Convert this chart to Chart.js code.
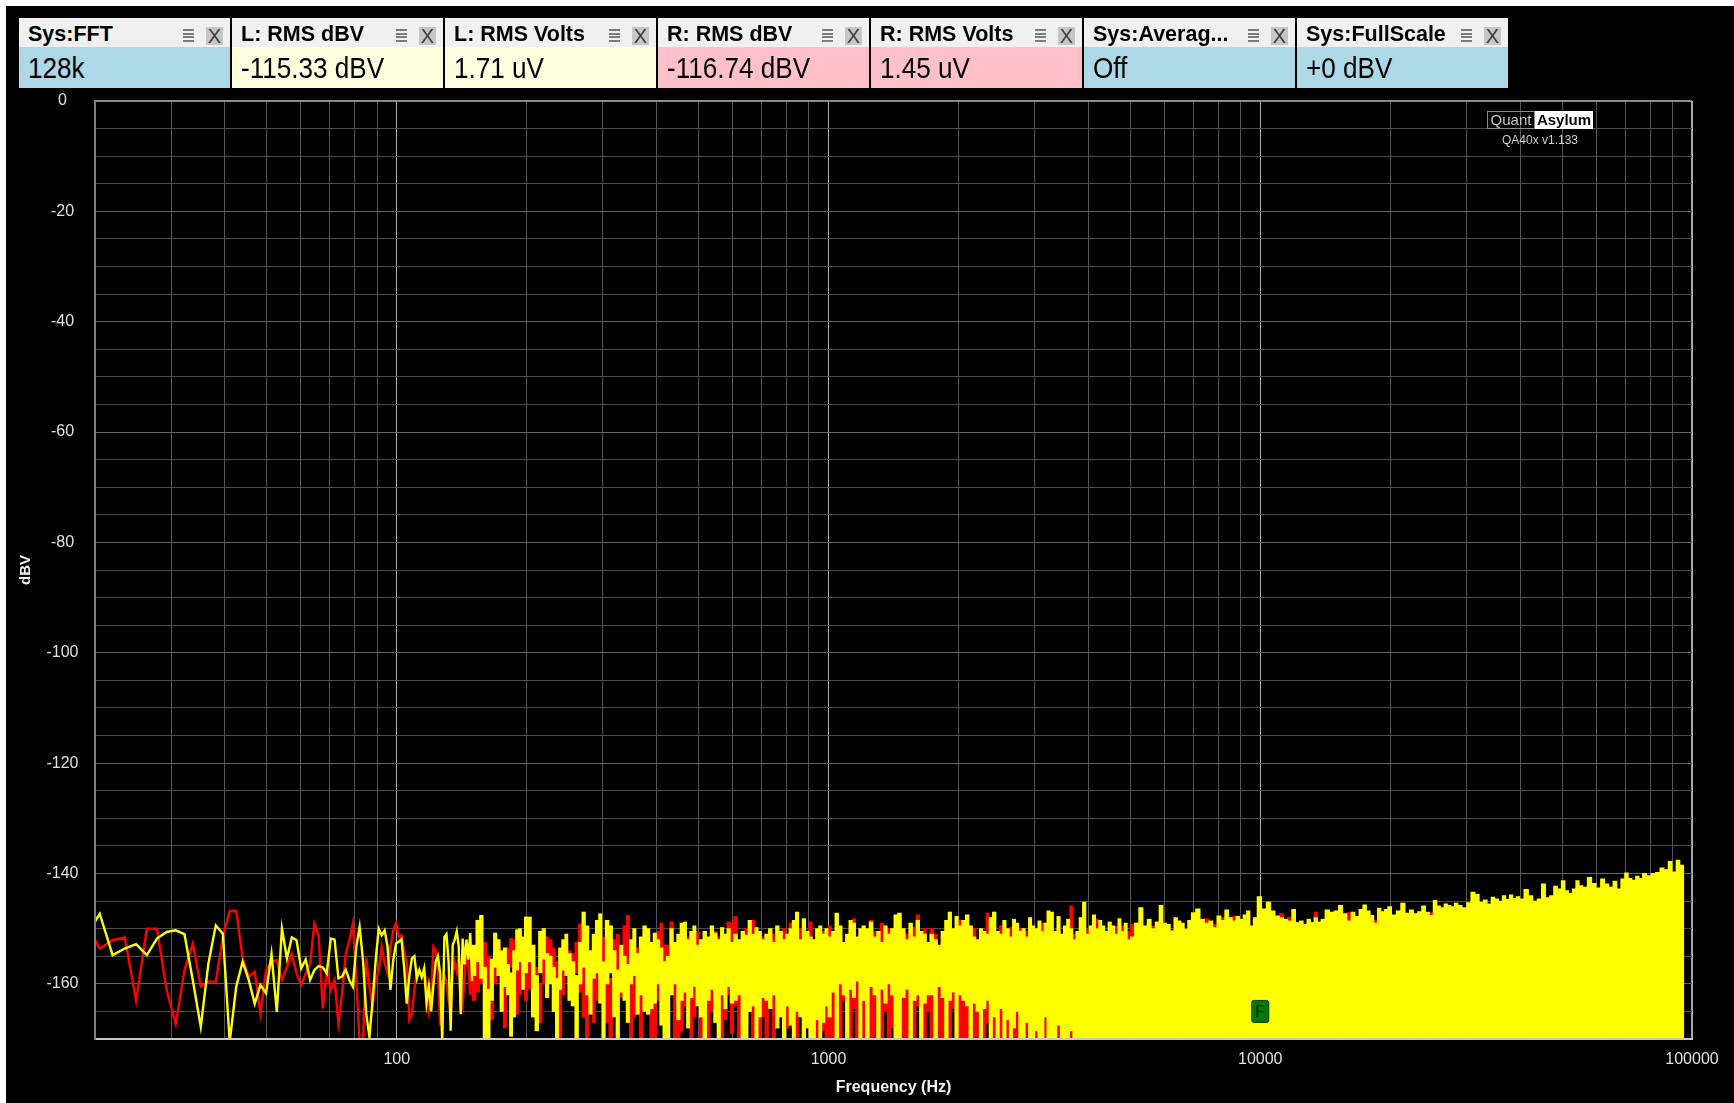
<!DOCTYPE html>
<html>
<head>
<meta charset="utf-8">
<title>QA40x FFT noise floor</title>
<script src="https://cdn.jsdelivr.net/npm/chart.js@4.4.1/dist/chart.umd.min.js"></script>
<style>
  html, body { margin: 0; padding: 0; background: #000; }
  body { width: 1734px; height: 1103px; position: relative; overflow: hidden; font-family: "Liberation Sans", Arial, sans-serif; }
  #chart { position: absolute; left: 0; top: 0; }
  .edge { position: absolute; background: #fff; z-index: 3; }
  .rd { position: absolute; top: 18px; width: 211px; height: 70px; z-index: 2; }
  .rd .t { position: absolute; left: 0; top: 0; width: 211px; height: 29px; background: #f0f0f0; color: #000;
           font-weight: bold; font-size: 21.5px; line-height: 32px; text-indent: 9px; white-space: nowrap; overflow: hidden; }
  .rd .v { position: absolute; left: 0; top: 29px; width: 211px; height: 41px; overflow: hidden; }
  .rd .v span { position: absolute; left: 9px; top: 0; font-size: 30px; line-height: 41px; color: #000;
                transform: scaleX(0.87); transform-origin: 0 50%; white-space: nowrap; }
  .rd .m { position: absolute; left: 164px; top: 11px; width: 11px; height: 13px;
           background: repeating-linear-gradient(#7c7c7c 0 2px, transparent 2px 3.67px); }
  .rd .x { position: absolute; left: 187px; top: 9px; width: 17px; height: 18px; background: #c6c6c6; color: #3c3c3c;
           font-size: 20px; font-weight: normal; line-height: 19px; text-align: center; text-indent: 0; }
  .logo { position: absolute; z-index: 2; white-space: nowrap; }
</style>
</head>
<body>
<canvas id="chart" width="1734" height="1103"></canvas>
<div class="edge" style="left:0;top:0;width:1734px;height:6px"></div>
<div class="edge" style="left:0;top:0;width:6px;height:1103px"></div>
<div id="readouts"></div>
<div class="logo" style="left:1487px;top:111px;width:46px;height:16px;border:1px solid #8c8c8c;color:#c4c4c4;font-size:15px;line-height:16px;text-align:center">Quant</div>
<div class="logo" style="left:1535px;top:111px;width:58px;height:18px;background:#fff;color:#000;font-weight:bold;font-size:15px;line-height:18px;text-align:center">Asylum</div>
<div class="logo" style="left:1490px;top:133px;width:100px;color:#d0d0d0;font-size:12px;line-height:14px;text-align:center">QA40x v1.133</div>
<script>
(function () {
  const readoutTitles = ["Sys:FFT", "L: RMS dBV", "L: RMS Volts", "R: RMS dBV", "R: RMS Volts", "Sys:Averag...", "Sys:FullScale"];
  const readoutValues = ["128k", "-115.33 dBV", "1.71 uV", "-116.74 dBV", "1.45 uV", "Off", "+0 dBV"];
  const readoutKinds = ["sys", "left", "left", "right", "right", "sys", "sys"];

  // FFT bins below 150 Hz, drawn as lines
  const lowFreq = [
    19.04, 20.51, 21.97, 23.44, 24.90, 26.37, 27.83, 29.30, 30.76, 32.23,
    33.69, 35.16, 36.62, 38.09, 39.55, 41.02, 42.48, 43.95, 45.41, 46.88,
    48.34, 49.80, 51.27, 52.73, 54.20, 55.66, 57.13, 58.59, 60.06, 61.52,
    62.99, 64.45, 65.92, 67.38, 68.85, 70.31, 71.78, 73.24, 74.71, 76.17,
    77.64, 79.10, 80.57, 82.03, 83.50, 84.96, 86.43, 87.89, 89.36, 90.82,
    92.29, 93.75, 95.21, 96.68, 98.14, 99.61, 101.07, 102.54, 104.00, 105.47,
    106.93, 108.40, 109.86, 111.33, 112.79, 114.26, 115.72, 117.19, 118.65, 120.12,
    121.58, 123.05, 124.51, 125.98, 127.44, 128.91, 130.37, 131.84, 133.30, 134.77,
    136.23, 137.70, 139.16, 140.63, 142.09, 143.55, 145.02, 146.48, 147.95, 149.41
  ];
  const lowL = [
    -151.4, -147.3, -154.8, -153.6, -152.8, -154.8, -151.8, -150.6, -150.3, -151.0,
    -159.3, -167.8, -156.3, -149.4, -150.9, -170.5, -160.5, -156.0, -159.3, -163.6,
    -160.2, -161.7, -154.6, -165.1, -150.0, -155.4, -151.6, -152.1, -157.2, -155.6,
    -159.3, -157.5, -156.8, -157.0, -158.1, -151.8, -152.0, -159.0, -158.7, -157.4,
    -159.3, -160.5, -153.3, -149.7, -155.7, -165.4, -169.6, -163.0, -155.7, -150.0,
    -151.2, -150.3, -153.3, -161.1, -155.7, -152.7, -152.4, -151.9, -157.0, -163.6,
    -158.5, -155.4, -155.0, -159.0, -157.5, -158.8, -157.2, -163.5, -160.5, -165.0,
    -160.2, -156.0, -155.0, -158.0, -170.5, -151.5, -151.0, -156.0, -168.5, -153.0,
    -152.0, -150.5, -153.2, -165.5, -151.8, -156.5, -152.0, -155.6, -150.8, -159.5
  ];
  const lowR = [
    -149.1, -153.6, -152.1, -151.6, -163.0, -150.0, -150.0, -161.1, -167.3, -157.5,
    -152.7, -160.5, -159.6, -159.6, -151.5, -146.8, -146.8, -155.4, -158.7, -157.8,
    -165.4, -157.5, -156.0, -155.7, -159.3, -156.9, -154.6, -158.1, -160.2, -158.1,
    -156.3, -149.1, -151.2, -164.5, -157.5, -161.1, -159.3, -167.2, -161.7, -154.5,
    -152.1, -149.1, -159.3, -170.5, -170.5, -155.2, -160.5, -164.2, -159.3, -157.5,
    -153.3, -156.3, -158.1, -153.3, -150.3, -149.0, -151.5, -151.2, -154.2, -156.0,
    -166.5, -165.4, -161.0, -157.5, -157.8, -158.5, -157.3, -160.0, -164.8, -162.0,
    -153.3, -154.0, -157.5, -167.5, -160.0, -158.5, -159.5, -163.0, -165.4, -158.0,
    -156.0, -157.8, -155.0, -161.5, -163.8, -159.0, -154.0, -157.0, -162.0, -156.5
  ];

  // 150 Hz .. 3.8 kHz: per-column min / max of the dense trace
  const midFreq = [
    151, 154, 157, 160, 163, 166, 169, 172, 175, 178, 181, 184, 187, 190, 193, 196, 199,
    203, 207, 211, 215, 219, 223, 227, 231, 235, 239, 243, 247, 251,
    256, 261, 266, 271, 276, 281, 286, 291, 296, 301,
    307, 313, 319, 325, 331, 337, 343, 349, 355, 361,
    368, 375, 382, 389, 396, 403, 410, 417,
    425, 433, 441, 449, 457, 465, 473, 481, 489, 497,
    507, 517, 527, 537, 547, 557, 567, 577, 587, 597,
    609, 621, 633, 645, 657, 669, 681, 693, 705,
    719, 733, 747, 761, 775, 789, 803, 817, 831, 845,
    861, 877, 893, 909, 925, 941, 957, 973, 989, 1005,
    1025, 1045, 1065, 1085, 1105, 1125, 1145, 1165, 1185, 1205,
    1230, 1255, 1280, 1305, 1330, 1355, 1380, 1405, 1430,
    1460, 1490, 1520, 1550, 1580, 1610, 1640, 1670, 1700,
    1735, 1770, 1805, 1840, 1875, 1910, 1945, 1980, 2015,
    2055, 2095, 2135, 2175, 2215, 2255, 2295, 2335, 2375,
    2420, 2465, 2510, 2555, 2600, 2645, 2690, 2735, 2780,
    2830, 2880, 2930, 2980, 3030, 3080, 3130, 3180, 3230,
    3290, 3350, 3410, 3470, 3530, 3590, 3650, 3710, 3770
  ];
  const midLLo = [
    -158.5, -156, -159, -171, -171, -163, -157, -158.5, -165, -160.5, -162, -169.5, -166, -157.5, -156, -161, -158,
    -156, -166, -168.5, -158, -155.5, -162.5, -160, -165, -171, -161, -157.5, -158.5, -163,
    -164, -171, -160, -157, -162, -165.5, -159, -158, -163.5, -171,
    -160, -158, -166, -171, -161.5, -163, -167, -160, -158.5, -165.5,
    -162, -165, -165.5, -164.5, -163.5, -160, -167.5, -171,
    -171, -162, -160, -166.5, -163, -161.5, -168, -162.5, -160.5, -164,
    -166, -171, -163, -161, -167, -171, -162, -164.5, -160.5, -163.5,
    -163, -162, -171, -171, -165, -164, -171, -166, -162.5,
    -163, -164.5, -162, -168, -166, -171, -164, -167.5, -171, -165,
    -166, -171, -168, -171, -171, -166.5, -171, -167, -164, -166,
    -161.5, -171, -160, -162, -171, -161, -162.5, -159.5, -171, -163,
    -171, -160.5, -162, -171, -161, -163.5, -160, -162, -171,
    -171, -162.5, -161, -171, -163, -162, -171, -163.5, -162,
    -162, -171, -160.5, -162.5, -171, -163, -161.5, -171, -162,
    -163, -164, -171, -163.5, -165, -171, -164.5, -163, -171,
    -166, -171, -164.5, -171, -166.5, -171, -168, -165, -171,
    -171, -167, -171, -171, -168.5, -171, -171, -166, -171,
    -171, -171, -167.5, -171, -171, -171, -168.5, -171, -171
  ];
  const midLHi = [
    -153, -148.5, -147.6, -157, -161, -155.5, -150.8, -152, -154, -153.5, -156.5, -158, -154, -150.2, -150, -151.5, -147.9,
    -147.9, -153, -158.5, -150.5, -150, -154.5, -155, -157, -159, -153.5, -152, -151, -154.5,
    -156, -158.5, -152.5, -147, -149.5, -154, -151, -148.5, -147.3, -156,
    -148.5, -149.5, -154, -157.5, -153, -155, -156.5, -152, -150, -154.5,
    -151.5, -149.5, -150, -152.5, -150.8, -152, -153.5, -156,
    -155, -150, -152.5, -151, -149, -148.8, -152, -150.5, -149.5, -153,
    -152, -150.5, -151.5, -149.5, -150.8, -152, -149.8, -151, -150, -152.5,
    -151, -152, -150.5, -151.2, -148.5, -151, -149.8, -150.5, -152,
    -151, -150, -152.5, -149.5, -150.5, -152, -151, -150, -148.5, -147,
    -152, -148.2, -150.5, -151.5, -152, -150, -149.5, -151, -150, -151.5,
    -150.5, -147.2, -149.5, -152.5, -151, -148.5, -149, -151.5, -150, -149.5,
    -150, -148.8, -151.5, -150.5, -152.5, -149.5, -151, -150, -147.5,
    -147.2, -150, -152, -149, -151.5, -148.5, -150.5, -151, -152.5,
    -151, -152, -153, -150.5, -148.5, -147, -150, -147.8, -149.5,
    -148.5, -147.5, -149.5, -151.5, -152, -150, -150.5, -151, -148,
    -147, -150.5, -151, -148.5, -150, -151.5, -148.3, -149, -150.5,
    -150, -151.5, -148, -149.5, -150, -148.6, -150.5, -149, -146.8,
    -147, -150.5, -147.8, -151, -149.5, -148.3, -150, -152, -150.5
  ];
  const midRLo = [
    -163, -161.5, -160, -158, -163.5, -166.5, -160, -158, -164, -168, -161, -157, -160.5, -165.5, -162, -159, -163,
    -161, -159, -163.5, -167, -160, -156.5, -157, -159.5, -164, -171, -162, -158, -160.5,
    -160, -158, -161.5, -166, -171, -162.5, -167, -163, -160, -158.5,
    -167, -171, -161, -159, -162.5, -160, -164, -171, -166, -161,
    -171, -163, -160.5, -171, -171, -163, -161.5, -166,
    -162, -158, -171, -171, -168.5, -164, -161, -171, -166, -160,
    -171, -161, -171, -165, -158.5, -163, -171, -166.5, -162, -169,
    -164, -171, -161, -167, -162.5, -171, -163, -171, -166,
    -171, -162, -171, -166, -162, -171, -168, -163, -165, -171,
    -164, -171, -162.5, -166, -163, -171, -162, -168.5, -171, -171,
    -171, -164, -171, -163, -166, -171, -164.5, -171, -162, -171,
    -166, -171, -171, -163.5, -171, -165, -171, -168, -164,
    -164, -171, -171, -166.5, -171, -164, -168, -171, -165,
    -171, -165, -171, -171, -166, -171, -164.5, -171, -171,
    -171, -171, -167, -171, -171, -166, -171, -167, -165.5,
    -171, -171, -171, -167.5, -171, -166, -171, -171, -167,
    -171, -171, -167, -171, -171, -169, -171, -171, -168,
    -171, -171, -171, -171, -171, -171, -171, -171, -171
  ];
  const midRHi = [
    -156, -154.5, -153, -152.5, -155, -156, -153, -152.5, -157, -159, -153.5, -151.8, -152, -157.5, -155, -154, -156.5,
    -155.5, -153, -157, -160, -154, -151.5, -152, -153.5, -156, -160, -155.5, -152.5, -154,
    -154.5, -152.5, -149.2, -152, -158, -155, -157.5, -155, -152.5, -151.5,
    -157, -159, -152, -151, -155.5, -149.5, -147.6, -155, -158, -153.5,
    -158, -156, -151, -155, -157.5, -150.5, -149, -153,
    -153, -148.8, -154, -157, -155, -153.5, -151.5, -156, -152, -150.5,
    -158, -153, -155.5, -152, -150.5, -151.5, -156, -153, -148.8, -149,
    -147.8, -153, -152.5, -150, -151, -148.5, -154, -155, -151.5,
    -152.5, -154, -151, -153.5, -152.5, -150, -155, -149, -152, -154,
    -150, -155, -152.5, -148.8, -153, -152, -154.5, -150.5, -153, -149.5,
    -152, -153, -151.5, -153.5, -152, -150, -148.2, -153, -151, -152.5,
    -152, -148.5, -150.5, -153, -149, -151.5, -150, -152.5, -151.5,
    -150, -152.5, -151, -150.5, -149.8, -147.5, -152, -150, -153,
    -150, -151, -154, -151.5, -152, -149, -151.5, -150.5, -148.5,
    -151, -152, -151, -150, -153, -151.5, -152, -147.2, -150.5,
    -151, -152.5, -149.5, -152, -150.5, -149.8, -151, -152.5, -150,
    -152, -150.5, -151, -152, -150, -151.5, -149, -151, -150.5,
    -150.5, -152, -150, -151.5, -150.5, -152, -145.9, -151, -152.5
  ];

  // 3.8 kHz .. 95 kHz: trace fills down to the floor, only the top edge shows
  const highFreq = [
    3840, 3910, 3980, 4050, 4120, 4190, 4260, 4330, 4400,
    4480, 4560, 4640, 4720, 4800, 4880, 4960,
    5050, 5170, 5290, 5410, 5530, 5650, 5770, 5890, 6010, 6130, 6250, 6370, 6490, 6610, 6730, 6850,
    7000, 7170, 7340, 7510, 7680, 7850, 8020, 8190, 8360, 8530, 8700, 8870, 9040, 9210, 9380, 9550, 9720,
    9950, 10200, 10450, 10700, 10950, 11200, 11450, 11700, 11950, 12200, 12450, 12700, 12950, 13200, 13450, 13700, 13950,
    14300, 14650, 15000, 15350, 15700, 16050, 16400, 16750, 17100, 17450, 17800, 18150, 18500, 18850, 19200, 19550, 19900,
    20400, 20900, 21400, 21900, 22400, 22900, 23400, 23900, 24400, 24900, 25400, 25900, 26400, 26900, 27400, 27900, 28400,
    29000, 29700, 30400, 31100, 31800, 32500, 33200, 33900, 34600, 35300, 36000, 36700, 37400, 38100, 38800, 39500,
    40300, 41300, 42300, 43300, 44300, 45300, 46300, 47300, 48300, 49300, 50300, 51300, 52300, 53300, 54300, 55300,
    56500, 57900, 59300, 60700, 62100, 63500, 64900, 66300, 67700, 69100, 70500, 71900, 73300, 74700, 76100, 77500,
    79500, 81400, 83300, 85200, 87100, 89000, 90900, 92800, 94700
  ];
  const highL = [
    -148, -145.2, -151, -149.5, -147.5, -150, -148.5, -149.5, -150.5,
    -148.8, -149.5, -151, -148.2, -150.5, -149, -152,
    -151.5, -149, -146.2, -149.5, -148.3, -150, -148.8, -145.8, -149, -149.2, -150.4, -148, -148.6, -149, -150.1, -148.5,
    -147.1, -146.4, -148.3, -149, -148.6, -149.8, -147.7, -148.5, -146.6, -148, -148.6, -147.8, -148.3, -147.5, -146.8, -149.5, -148,
    -144.2, -146.4, -145.2, -146.8, -147.7, -148, -148.3, -148.6, -146.5, -148.9, -148.6, -149.2, -148.3, -148.9, -148, -148.8, -148.3,
    -146.6, -147, -146.8, -145.8, -147.3, -148.6, -147, -147.8, -146.5, -145.7, -146.8, -147.6, -149, -146.3, -146.9, -146.5, -146,
    -147.5, -146.8, -145.4, -147.2, -146.6, -147.3, -146.9, -145.9, -147, -147.6, -144.9, -145.9, -146.2, -145.5, -145.8, -146, -145.4,
    -145.8, -146.2, -145.3, -143.4, -143.8, -145.2, -144.8, -145.5, -144.3, -144.6, -145, -144, -144.7, -143.9, -144.5, -144.2,
    -144.6, -142.9, -144, -145, -144.6, -141.9, -144.4, -144, -142.3, -142.8, -141.3, -143.1, -143.6, -142.8, -141.3, -142.2,
    -142.5, -140.7, -141.8, -142.6, -141, -141.9, -142.5, -141.4, -142.8, -141, -139.9, -140.9, -141.2, -140.5, -140.9, -140,
    -140.4, -140, -139.8, -139, -139.3, -137.8, -139.7, -137.6, -138.5
  ];
  const highR = [
    -151, -150, -150.2, -151.5, -150, -148.3, -151, -150.5, -152,
    -151.5, -150, -149.6, -151, -149.5, -152.5, -150.5,
    -149.2, -150.5, -149, -150, -150.5, -149.6, -151, -149.5, -150.5, -150.8, -151.5, -150, -150.3, -150.5, -151, -150,
    -149.5, -149.8, -149, -148.2, -149.6, -149.2, -149.5, -148, -149.5, -149.8, -147.8, -149.5, -150, -149.2, -149, -150.5, -149.7,
    -148.5, -148.8, -148.5, -149, -149.2, -147.3, -149.5, -147.9, -149.5, -150, -149.6, -150, -149.5, -149.8, -147, -149.5, -149.6,
    -148.5, -148.2, -148, -148.6, -148.9, -147.1, -148.5, -149, -148, -148.3, -148.6, -149, -148.5, -148, -148.2, -148.6, -147.8,
    -148.3, -148.5, -147.8, -148, -148, -148.5, -148.2, -147.5, -147.8, -147.1, -147.3, -147.5, -147.7, -147.2, -147.5, -147.8, -147,
    -147.5, -147, -147, -146, -146.5, -146.8, -146.5, -146.5, -146, -146, -146.3, -146, -146.2, -145.8, -146, -145.8,
    -145.8, -145.5, -145.6, -146, -145.8, -145, -145.5, -145, -144.5, -144.6, -144.3, -144.6, -145, -144.5, -144.2, -144,
    -144, -143.5, -143.5, -144, -143.2, -143.5, -143.8, -143, -144, -142.8, -142.5, -142.6, -142.9, -142.5, -142.5, -142,
    -142, -141.7, -141.5, -141, -141.2, -140.5, -141.4, -140.4, -140.5
  ];
  const floorDb = -171;

  const xGridValues = [
    20, 30, 40, 50, 60, 70, 80, 90, 100, 200, 300, 400, 500, 600, 700, 800, 900,
    1000, 2000, 3000, 4000, 5000, 6000, 7000, 8000, 9000, 10000,
    20000, 30000, 40000, 50000, 60000, 70000, 80000, 90000, 100000
  ];
  const xLabelValues = [100, 1000, 10000, 100000];
  const xMajorValues = [100, 1000, 10000];
  const yGridValues = [
    0, -5, -10, -15, -20, -25, -30, -35, -40, -45, -50, -55, -60, -65, -70, -75, -80, -85,
    -90, -95, -100, -105, -110, -115, -120, -125, -130, -135, -140, -145, -150, -155, -160, -165, -170
  ];
  const yLabelValues = [0, -20, -40, -60, -80, -100, -120, -140, -160];
  const markerFreq = [10000];
  const markerDb = [-165];
  const markerText = ["F"];

  const kindColors = { sys: "#add8e6", left: "#ffffe0", right: "#ffc0cb" };
  const holder = document.getElementById("readouts");
  readoutTitles.forEach(function (title, i) {
    const box = document.createElement("div");
    box.className = "rd";
    box.style.left = (19 + i * 213) + "px";
    box.innerHTML =
      '<div class="t"></div><div class="m"></div><div class="x">X</div>' +
      '<div class="v" style="background:' + kindColors[readoutKinds[i]] + '"><span></span></div>';
    box.querySelector(".t").textContent = title;
    box.querySelector(".v span").textContent = readoutValues[i];
    holder.appendChild(box);
  });

  const yellow = "#ffff00";
  const red = "#ff0000";
  const fontFamily = "'Liberation Sans', Arial, sans-serif";
  const tickFont = { family: fontFamily, size: 16 };

  const points = (fs, ys) => fs.map((f, i) => ({ x: f, y: ys[i] }));
  const spans = (fs, lo, hi) => fs.map((f, i) => ({ x: f, y: [lo[i], hi[i]] }));
  const floorSpans = (fs, hi) => fs.map((f, i) => ({ x: f, y: [floorDb, hi[i]] }));

  const lineSet = (label, data, color) => ({
    type: "line", label: label, data: data,
    borderColor: color, backgroundColor: color, borderWidth: 2.4,
    pointRadius: 0, tension: 0, fill: false, clip: 0,
  });
  const barSet = (label, data, color) => ({
    type: "bar", label: label, data: data,
    backgroundColor: color, borderWidth: 0, stack: "trace",
    barThickness: "flex", barPercentage: 1, categoryPercentage: 1,
    inflateAmount: 0.4, clip: 0,
  });

  const markerPlugin = {
    id: "marker",
    afterDatasetsDraw(chart) {
      const c = chart.ctx;
      const xs = chart.scales.x;
      const ys = chart.scales.y;
      markerFreq.forEach(function (f, i) {
        const px = xs.getPixelForValue(f);
        const py = ys.getPixelForValue(markerDb[i]);
        c.save();
        c.fillStyle = "#007a00";
        c.strokeStyle = "#0c360c";
        c.lineWidth = 1;
        c.beginPath();
        c.roundRect(px - 8.5, py - 11, 17, 22, 2);
        c.fill();
        c.stroke();
        c.fillStyle = "#061806";
        c.font = "16px " + fontFamily;
        c.textAlign = "center";
        c.textBaseline = "middle";
        c.fillText(markerText[i], px, py + 1);
        c.restore();
      });
    },
  };

  new Chart(document.getElementById("chart"), {
    type: "line",
    data: {
      datasets: [
        lineSet("L", points(lowFreq, lowL), yellow),
        barSet("L", spans(midFreq, midLLo, midLHi), yellow),
        barSet("L", floorSpans(highFreq, highL), yellow),
        lineSet("R", points(lowFreq, lowR), red),
        barSet("R", spans(midFreq, midRLo, midRHi), red),
        barSet("R", floorSpans(highFreq, highR), red),
      ],
    },
    options: {
      responsive: false,
      animation: false,
      devicePixelRatio: 1,
      events: [],
      layout: { padding: { left: 6, top: 101, right: 42, bottom: 0 } },
      plugins: { legend: { display: false }, tooltip: { enabled: false } },
      scales: {
        x: {
          type: "logarithmic",
          position: "bottom",
          min: 20,
          max: 100000,
          offset: false,
          afterBuildTicks: (s) => { s.ticks = xGridValues.map((v) => ({ value: v })); },
          afterFit: (s) => { s.height = 64; },
          grid: {
            offset: false,
            drawTicks: false,
            color: (c) => {
              const v = c.tick && c.tick.value;
              if (v === 100000) return "#a8a8a8";
              return xMajorValues.includes(v) ? "#b0b0b0" : "#555555";
            },
            lineWidth: (c) => (c.tick && c.tick.value === 100000 ? 2 : 1),
          },
          border: { color: "#c8c8c8", width: 2, z: 1 },
          ticks: {
            autoSkip: false,
            maxRotation: 0,
            minRotation: 0,
            padding: 11,
            color: "#e0e0e0",
            font: tickFont,
            callback: (v) => (xLabelValues.includes(v) ? String(v) : ""),
          },
          title: {
            display: true,
            text: "Frequency (Hz)",
            color: "#f2f2f2",
            font: { family: fontFamily, size: 16, weight: "bold" },
            padding: { top: 0, bottom: 6 },
          },
        },
        y: {
          type: "linear",
          min: -170,
          max: 0,
          stacked: false,
          afterBuildTicks: (s) => { s.ticks = yGridValues.map((v) => ({ value: v })); },
          afterFit: (s) => { s.width = 89; },
          grid: {
            drawTicks: false,
            color: (c) => {
              const v = c.tick && c.tick.value;
              if (v === 0) return "#8a8a8a";
              return yLabelValues.includes(v) ? "#666666" : "#4e4e4e";
            },
            lineWidth: (c) => (c.tick && c.tick.value === 0 ? 2 : 1),
          },
          border: { color: "#808080", width: 2, z: 1 },
          ticks: {
            autoSkip: false,
            crossAlign: "center",
            padding: 16.5,
            color: "#e0e0e0",
            font: tickFont,
            callback: (v) => (yLabelValues.includes(v) ? String(v) : ""),
          },
          title: {
            display: true,
            text: "dBV",
            color: "#f2f2f2",
            font: { family: fontFamily, size: 15, weight: "bold" },
            padding: { top: 10.5, bottom: 0 },
          },
        },
      },
    },
    plugins: [markerPlugin],
  });
})();
</script>
</body>
</html>
